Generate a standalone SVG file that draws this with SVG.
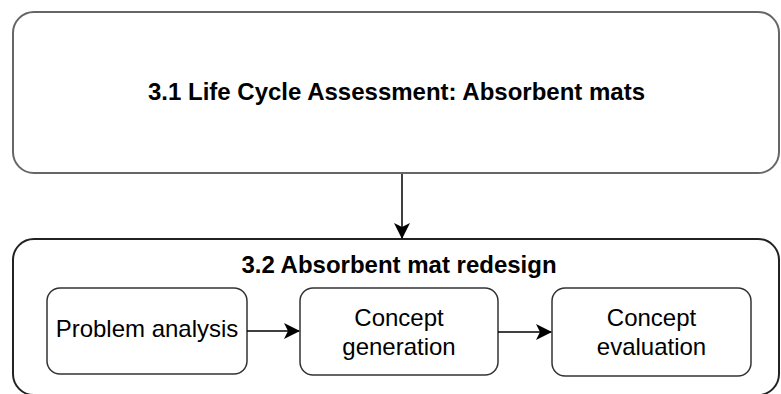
<svg xmlns="http://www.w3.org/2000/svg" width="781" height="394" viewBox="0 0 781 394">
  <style>
    .outer { fill: #ffffff; stroke-width: 2; }
    .step { fill: #ffffff; stroke: #333333; stroke-width: 1.5; }
    .title { font-family: "Liberation Sans", Arial, sans-serif; font-size: 24px; font-weight: bold; fill: #000000; text-anchor: middle; }
    .label { font-family: "Liberation Sans", Arial, sans-serif; font-size: 24px; fill: #000000; text-anchor: middle; }
    .edge { fill: none; stroke: #000000; stroke-width: 1.5; }
  </style>
  <defs>
    <marker id="arrow" viewBox="0 0 16 16" refX="15" refY="8" markerWidth="16" markerHeight="16" markerUnits="userSpaceOnUse" orient="auto">
      <path d="M0,0 L16,8 L0,16 L4,8 Z" fill="#000000"/>
    </marker>
  </defs>
  <rect width="781" height="394" fill="#ffffff"/>

  <g id="lca">
    <rect class="outer" x="13" y="12" width="766" height="161" rx="21" ry="21" stroke="#666666"/>
    <text class="title" x="396.5" y="100">3.1 Life Cycle Assessment: Absorbent mats</text>
  </g>

  <g id="redesign">
    <rect class="outer" x="13" y="239" width="766" height="156" rx="21" ry="21" stroke="#222222" stroke-width="1.5"/>
    <text class="title" x="399" y="273">3.2 Absorbent mat redesign</text>
  </g>

  <g id="problem-analysis">
    <rect class="step" x="47" y="288" width="200" height="86" rx="13" ry="13"/>
    <text class="label" x="147" y="337">Problem analysis</text>
  </g>

  <g id="concept-generation">
    <rect class="step" x="300" y="288" width="198" height="87" rx="13" ry="13"/>
    <text class="label" x="399" y="326">Concept</text>
    <text class="label" x="399" y="355">generation</text>
  </g>

  <g id="concept-evaluation">
    <rect class="step" x="552" y="288" width="199" height="88" rx="13" ry="13"/>
    <text class="label" x="651.5" y="326">Concept</text>
    <text class="label" x="651.5" y="355">evaluation</text>
  </g>

  <g id="connectors">
    <path class="edge" d="M402,174 L402,238" marker-end="url(#arrow)"/>
    <path class="edge" d="M247,331 L299,331" marker-end="url(#arrow)"/>
    <path class="edge" d="M498,332 L551,332" marker-end="url(#arrow)"/>
  </g>
</svg>
